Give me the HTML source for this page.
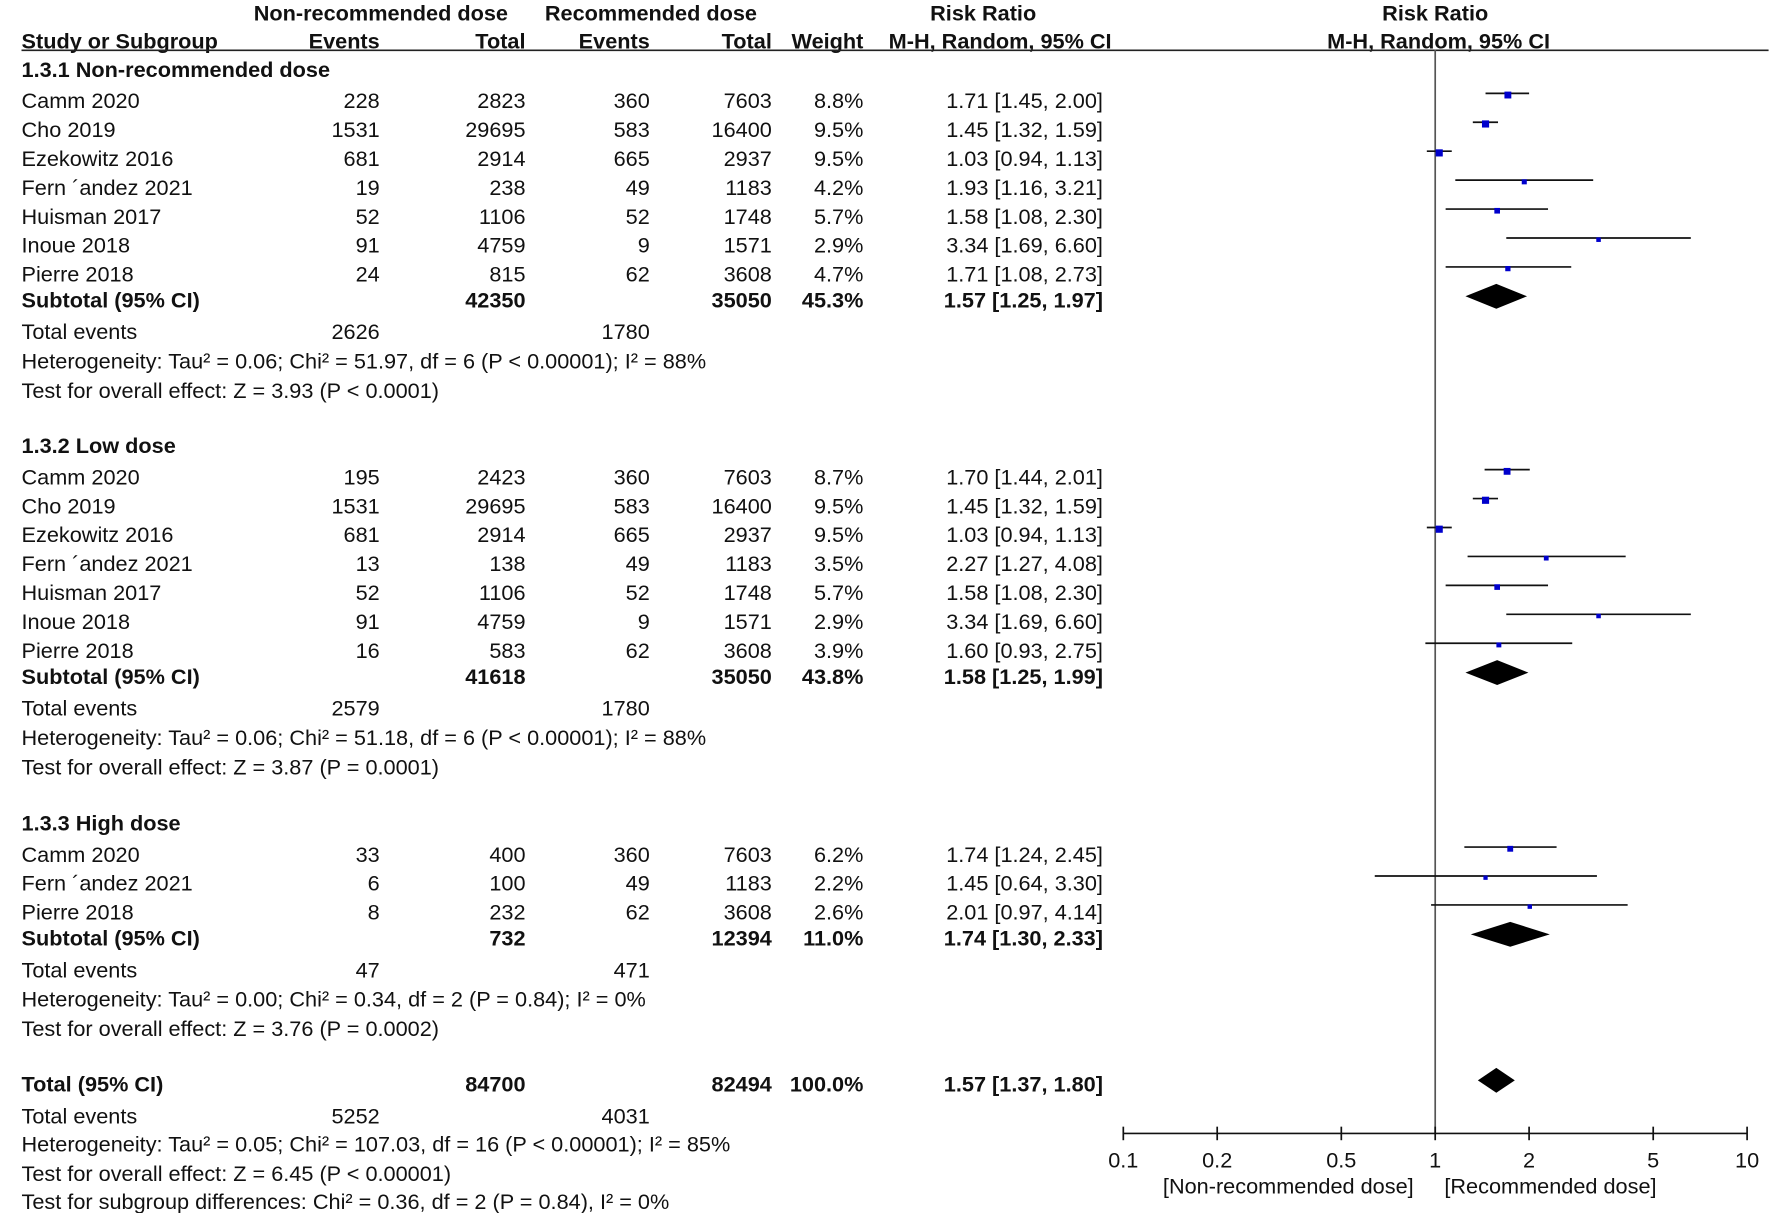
<!DOCTYPE html>
<html><head><meta charset="utf-8"><style>
html,body{margin:0;padding:0;background:#fff}
svg{display:block}
text{font-family:"Liberation Sans",Arial,sans-serif;font-size:19.2px;fill:#111}
.b{font-weight:bold}
</style></head><body>
<svg id="plot" width="1772" height="1213" viewBox="0 0 1568 1073.4" xmlns="http://www.w3.org/2000/svg"></svg>
<script>
// data arrays
const studyNames = ["Camm 2020","Cho 2019","Ezekowitz 2016","Fern ´andez 2021","Huisman 2017","Inoue 2018","Pierre 2018",
 "Camm 2020","Cho 2019","Ezekowitz 2016","Fern ´andez 2021","Huisman 2017","Inoue 2018","Pierre 2018",
 "Camm 2020","Fern ´andez 2021","Pierre 2018"];
const studyGroup = [0,0,0,0,0,0,0,1,1,1,1,1,1,1,2,2,2];
const ev1 = [228,1531,681,19,52,91,24,195,1531,681,13,52,91,16,33,6,8];
const tot1 = [2823,29695,2914,238,1106,4759,815,2423,29695,2914,138,1106,4759,583,400,100,232];
const ev2 = [360,583,665,49,52,9,62,360,583,665,49,52,9,62,360,49,62];
const tot2 = [7603,16400,2937,1183,1748,1571,3608,7603,16400,2937,1183,1748,1571,3608,7603,1183,3608];
const weights = [8.8,9.5,9.5,4.2,5.7,2.9,4.7,8.7,9.5,9.5,3.5,5.7,2.9,3.9,6.2,2.2,2.6];
const rr = [1.71,1.45,1.03,1.93,1.58,3.34,1.71,1.70,1.45,1.03,2.27,1.58,3.34,1.60,1.74,1.45,2.01];
const lo = [1.45,1.32,0.94,1.16,1.08,1.69,1.08,1.44,1.32,0.94,1.27,1.08,1.69,0.93,1.24,0.64,0.97];
const hi = [2.00,1.59,1.13,3.21,2.30,6.60,2.73,2.01,1.59,1.13,4.08,2.30,6.60,2.75,2.45,3.30,4.14];
const groupTitles = ["1.3.1 Non-recommended dose","1.3.2 Low dose","1.3.3 High dose"];
const subTot1 = [42350,41618,732];
const subTot2 = [35050,35050,12394];
const subWeight = ["45.3%","43.8%","11.0%"];
const subRR = [1.57,1.58,1.74];
const subLo = [1.25,1.25,1.30];
const subHi = [1.97,1.99,2.33];
const subEv1 = [2626,2579,47];
const subEv2 = [1780,1780,471];
const subHet = ["Heterogeneity: Tau² = 0.06; Chi² = 51.97, df = 6 (P < 0.00001); I² = 88%",
 "Heterogeneity: Tau² = 0.06; Chi² = 51.18, df = 6 (P < 0.00001); I² = 88%",
 "Heterogeneity: Tau² = 0.00; Chi² = 0.34, df = 2 (P = 0.84); I² = 0%"];
const subTest = ["Test for overall effect: Z = 3.93 (P < 0.0001)","Test for overall effect: Z = 3.87 (P = 0.0001)","Test for overall effect: Z = 3.76 (P = 0.0002)"];
const totalRR = 1.57, totalLo = 1.37, totalHi = 1.80;
const totalN1 = 84700, totalN2 = 82494, totalEv1 = 5252, totalEv2 = 4031;
const tickVals = [0.1,0.2,0.5,1,2,5,10];
const tickLabels = ["0.1","0.2","0.5","1","2","5","10"];

const svg = document.getElementById('plot');
const NS = "http://www.w3.org/2000/svg";
function mk(tag, attrs, name){
  const e = document.createElementNS(NS, tag);
  for (const k in attrs) e.setAttribute(k, attrs[k]);
  
  
  svg.appendChild(e); return e;
}
function txt(x,y,s,name,anchor,bold){
  const e = mk('text',{x:x,y:y,'text-anchor':anchor||'start'},name);
  if(bold) e.setAttribute('class','b');
  e.textContent = s; return e;
}
const X0 = 1270, DEC = 276;
function xs(v){ return X0 + Math.log10(v)*DEC; }
const f2 = v => v.toFixed(2);
const C = {name:19, ev1:336, tot1:465, ev2:575, tot2:683, w:764, rr:976};
const RH = 25.6, BL = 8;

// header
txt(337,18,"Non-recommended dose","header-nonrec",'middle',true);
txt(576,18,"Recommended dose","header-rec",'middle',true);
txt(870,18,"Risk Ratio","header-risk-ratio",'middle',true);
txt(1270,18,"Risk Ratio","header-plot-risk-ratio",'middle',true);
txt(19,43,"Study or Subgroup","header-study",'start',true);
txt(C.ev1,43,"Events","header-events1",'end',true);
txt(C.tot1,43,"Total","header-total1",'end',true);
txt(C.ev2,43,"Events","header-events2",'end',true);
txt(C.tot2,43,"Total","header-total2",'end',true);
txt(C.w,43,"Weight","header-weight",'end',true);
txt(885,43,"M-H, Random, 95% CI","header-method",'middle',true);
txt(1273,43,"M-H, Random, 95% CI","header-plot-method",'middle',true);
mk('line',{x1:19,y1:44.5,x2:1565,y2:44.5,stroke:'#222','stroke-width':1.5},'header-rule');
mk('line',{x1:X0,y1:44,x2:X0,y2:1003,stroke:'#555','stroke-width':1.5},'null-line');

function diamond(y,r,l,h,name){
  mk('polygon',{points:`${xs(l)},${y} ${xs(r)},${y-11} ${xs(h)},${y} ${xs(r)},${y+11}`,fill:'#000'},name);
}

const groupStart = [61,394,728];
for(let g=0; g<3; g++){
  let y = groupStart[g];
  txt(19,y+BL-1,groupTitles[g],'group-title-'+(g+1),'start',true);
  for(let i=0;i<studyNames.length;i++){
    if(studyGroup[i]!==g) continue;
    y += RH;
    const yy = y+BL+1;
    txt(C.name,yy,studyNames[i],'study-name','start');
    txt(C.ev1,yy,String(ev1[i]),'events-nonrec','end');
    txt(C.tot1,yy,String(tot1[i]),'total-nonrec','end');
    txt(C.ev2,yy,String(ev2[i]),'events-rec','end');
    txt(C.tot2,yy,String(tot2[i]),'total-rec','end');
    txt(C.w,yy,weights[i].toFixed(1)+"%",'weight','end');
    txt(C.rr,yy,`${f2(rr[i])} [${f2(lo[i])}, ${f2(hi[i])}]`,'risk-ratio-ci','end');
    const py = y-6+2;
    mk('line',{x1:xs(lo[i]),y1:py,x2:xs(hi[i]),y2:py,stroke:'#111','stroke-width':1.5},'ci-line');
    const s = 3 + weights[i]*0.35;
    mk('rect',{x:xs(rr[i])-s/2,y:py-s/2+1.5,width:s,height:s,fill:'#0000cc'},'point-estimate');
  }
  y += 24;
  txt(C.name,y+BL,"Subtotal (95% CI)",'subtotal-label','start',true);
  txt(C.tot1,y+BL,String(subTot1[g]),'subtotal-total-nonrec','end',true);
  txt(C.tot2,y+BL,String(subTot2[g]),'subtotal-total-rec','end',true);
  txt(C.w,y+BL,subWeight[g],'subtotal-weight','end',true);
  txt(C.rr,y+BL,`${f2(subRR[g])} [${f2(subLo[g])}, ${f2(subHi[g])}]`,'subtotal-rr','end',true);
  diamond(y-2,subRR[g],subLo[g],subHi[g],'subtotal-diamond');
  y += 28;
  txt(C.name,y+BL,"Total events",'total-events-label','start');
  txt(C.ev1,y+BL,String(subEv1[g]),'total-events-nonrec','end');
  txt(C.ev2,y+BL,String(subEv2[g]),'total-events-rec','end');
  y += 26; txt(C.name,y+BL,subHet[g],'heterogeneity','start');
  y += 26; txt(C.name,y+BL,subTest[g],'overall-effect','start');
}
txt(C.name,966,"Total (95% CI)",'total-label','start',true);
txt(C.tot1,966,String(totalN1),'total-n-nonrec','end',true);
txt(C.tot2,966,String(totalN2),'total-n-rec','end',true);
txt(C.w,966,"100.0%",'total-weight','end',true);
txt(C.rr,966,`${f2(totalRR)} [${f2(totalLo)}, ${f2(totalHi)}]`,'total-rr','end',true);
diamond(956,totalRR,totalLo,totalHi,'total-diamond');
txt(C.name,994,"Total events",'overall-events-label','start');
txt(C.ev1,994,String(totalEv1),'overall-events-nonrec','end');
txt(C.ev2,994,String(totalEv2),'overall-events-rec','end');
txt(C.name,1019,"Heterogeneity: Tau² = 0.05; Chi² = 107.03, df = 16 (P < 0.00001); I² = 85%",'overall-heterogeneity','start');
txt(C.name,1045,"Test for overall effect: Z = 6.45 (P < 0.00001)",'overall-effect-total','start');
txt(C.name,1070,"Test for subgroup differences: Chi² = 0.36, df = 2 (P = 0.84), I² = 0%",'subgroup-differences','start');

// axis
mk('line',{x1:xs(0.1),y1:1003,x2:xs(10),y2:1003,stroke:'#111','stroke-width':1.5},'x-axis');
tickVals.forEach((v,i)=>{
  mk('line',{x1:xs(v),y1:997,x2:xs(v),y2:1009,stroke:'#111','stroke-width':1.5},'x-tick');
  txt(xs(v),1033,tickLabels[i],'x-tick-label','middle');
});
txt(1140,1056,"[Non-recommended dose]",'favours-left','middle');
txt(1372,1056,"[Recommended dose]",'favours-right','middle');
</script>
</body></html>
